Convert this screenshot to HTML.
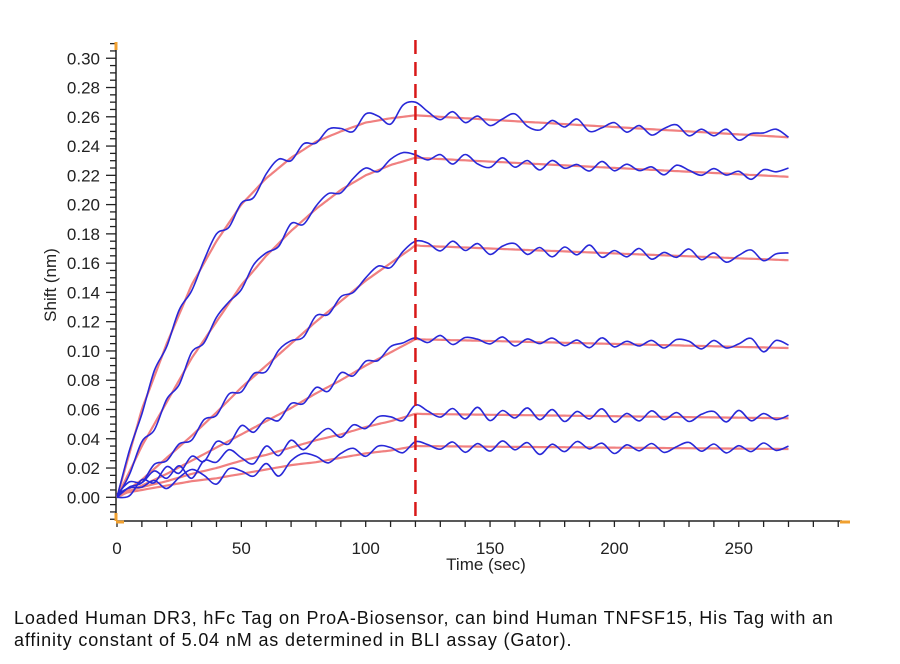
<!DOCTYPE html>
<html><head><meta charset="utf-8"><style>
html,body{margin:0;padding:0;background:#fff;width:900px;height:664px;overflow:hidden}
svg text{font-family:"Liberation Sans",Arial,sans-serif}
#cap{position:absolute;left:14px;top:607px;font-family:"Liberation Sans",sans-serif;font-size:18px;letter-spacing:0.85px;line-height:22px;color:#111;white-space:nowrap}
</style></head><body>
<svg id="chart" width="900" height="600" style="position:absolute;left:0;top:0"></svg>
<div id="cap">Loaded Human DR3, hFc Tag on ProA-Biosensor, can bind Human TNFSF15, His Tag with an<br>affinity constant of 5.04 nM as determined in BLI assay (Gator).</div>
<script>
const fitTimes=[0,10,20,30,40,50,60,70,80,90,100,110,120,270];
const fit1=[0,0.06,0.105,0.145,0.175,0.2,0.218,0.232,0.243,0.25,0.256,0.259,0.261,0.246];
const fit2=[0,0.035,0.065,0.095,0.12,0.145,0.165,0.182,0.197,0.21,0.22,0.227,0.232,0.219];
const fit3=[0,0.012,0.027,0.042,0.058,0.075,0.09,0.105,0.12,0.134,0.148,0.16,0.172,0.162];
const fit4=[0,0.008,0.016,0.025,0.034,0.043,0.052,0.061,0.071,0.08,0.09,0.099,0.108,0.102];
const fit5=[0.002,0.007,0.011,0.016,0.02,0.025,0.029,0.034,0.039,0.043,0.048,0.052,0.057,0.054];
const fit6=[0.002,0.005,0.008,0.011,0.013,0.016,0.019,0.022,0.024,0.027,0.03,0.032,0.035,0.033];
// residuals (x0.001) of measured trace vs fit, every 5 s from 0 to 270
const res1=[0,2,-3,4,-2,3,-4,2,5,-3,1,-4,3,6,-2,4,-1,5,2,-3,6,3,-4,8,9,3,-2,4,-3,2,-4,1,5,-3,-5,2,-2,4,-4,-1,3,-3,2,-4,1,4,-3,2,-2,3,-4,1,2,5,0];
const res2=[0,-2,3,-4,2,-3,4,-2,3,1,-3,4,2,-2,5,-3,2,4,-2,3,5,-1,4,6,2,-1,3,-3,4,-2,-4,3,-3,2,-4,3,-2,1,-3,4,-2,3,-1,2,-3,4,1,-2,3,-1,2,-3,4,3,6];
const res3=[0,1,-2,3,-2,2,-3,3,-2,4,-3,2,-4,3,2,-3,4,-2,3,-1,2,4,-3,2,3,2,-3,4,-2,3,-4,2,4,-3,2,-4,3,-2,5,-3,2,-2,4,-3,2,-1,5,-2,3,-3,2,6,-1,4,5];
const res4=[0,-3,4,-2,5,-4,3,-5,4,-2,6,-3,2,-4,3,-2,4,-3,5,-2,3,-1,4,2,1,-2,3,-3,2,1,-2,3,-3,2,-1,3,-2,2,-3,4,-2,2,-1,3,-2,4,3,-2,4,-1,2,6,-3,5,2];
const res5=[0,6,3,9,2,8,-3,7,4,10,2,-4,6,-3,5,-4,2,6,-2,4,-1,5,3,-2,6,2,-2,4,-3,5,-4,3,-2,5,-3,4,-4,3,-2,5,-4,2,-3,4,-2,3,-3,2,4,-3,5,-2,3,-1,2];
const res6=[0,3,2,5,-2,4,8,3,-4,5,2,-3,4,-6,3,7,4,-2,3,5,-2,4,2,-3,3,1,-2,3,-4,2,-3,4,-2,3,-5,2,-3,4,-1,3,-4,2,-2,3,-3,1,4,-2,3,-3,2,-2,4,-1,2];
const xTicks=[0,50,100,150,200,250];
const yTicks=[0,0.02,0.04,0.06,0.08,0.1,0.12,0.14,0.16,0.18,0.2,0.22,0.24,0.26,0.28,0.3];
const xScale=t=>117+t*2.487;
const yScale=v=>497.3-v*1463.5;
const svg=document.getElementById('chart');
const NS='http://www.w3.org/2000/svg';
function mk(tag,attrs,parent){const e=document.createElementNS(NS,tag);for(const k in attrs)e.setAttribute(k,attrs[k]);(parent||svg).appendChild(e);return e;}
let ax=mk('line',{x1:116,y1:42,x2:116,y2:521,stroke:'#222','stroke-width':1.5});


let bx=mk('line',{x1:116,y1:521,x2:842,y2:521,stroke:'#222','stroke-width':1.5});


for(let v=-0.015;v<=0.3101;v+=0.005){const y=yScale(v);const major=Math.abs(Math.round(v/0.02)*0.02-v)<1e-6;mk('line',{x1:major?106:110,y1:y,x2:116,y2:y,stroke:'#222','stroke-width':1.3});}
for(let t=0;t<=290;t+=10){const x=xScale(t);mk('line',{x1:x,y1:521,x2:x,y2:527,stroke:'#222','stroke-width':1.3});}
yTicks.forEach(v=>{const t=mk('text',{x:100,y:yScale(v)+6,'text-anchor':'end','font-size':17,fill:'#222'});t.textContent=v.toFixed(2);

});
xTicks.forEach(v=>{const t=mk('text',{x:xScale(v),y:554,'text-anchor':'middle','font-size':17,fill:'#222'});t.textContent=v;

});
let yt=mk('text',{x:0,y:0,transform:'translate(56,285) rotate(-90)','text-anchor':'middle','font-size':17,fill:'#222'});yt.textContent='Shift (nm)';


let xt=mk('text',{x:486,y:570,'text-anchor':'middle','font-size':17,fill:'#222'});xt.textContent='Time (sec)';


[[116,42,116,50],[116,513,116,521],[116,522,124,522],[840,522,850,522]].forEach(a=>{const m=mk('line',{x1:a[0],y1:a[1],x2:a[2],y2:a[3],stroke:'#f0a030','stroke-width':3});

});
function fitAt(f,t){for(let i=0;i<fitTimes.length-1;i++){if(t<=fitTimes[i+1]){const a=fitTimes[i],b=fitTimes[i+1];return f[i]+(f[i+1]-f[i])*(t-a)/(b-a);}}return f[f.length-1];}
function smoothPath(pts){let d='M'+pts[0][0]+','+pts[0][1];for(let i=0;i<pts.length-1;i++){const p0=pts[Math.max(0,i-1)],p1=pts[i],p2=pts[i+1],p3=pts[Math.min(pts.length-1,i+2)];
d+=' C'+(p1[0]+(p2[0]-p0[0])/6).toFixed(1)+','+(p1[1]+(p2[1]-p0[1])/6).toFixed(1)+' '+(p2[0]-(p3[0]-p1[0])/6).toFixed(1)+','+(p2[1]-(p3[1]-p1[1])/6).toFixed(1)+' '+p2[0].toFixed(1)+','+p2[1].toFixed(1);}return d;}
const fits=[fit1,fit2,fit3,fit4,fit5,fit6];const ress=[res1,res2,res3,res4,res5,res6];
fits.forEach((f,k)=>{
  const pts=[];for(let t=0;t<=270;t+=2)pts.push([xScale(t),yScale(fitAt(f,t))]);
  const p=mk('path',{d:smoothPath(pts),fill:'none',stroke:'#f08080','stroke-width':2.2});
  
  
});
fits.forEach((f,k)=>{
  const r=ress[k];const pts=[];r.forEach((v,i)=>{const t=i*5;pts.push([xScale(t),yScale(fitAt(f,t)+v*0.001)]);});
  const p=mk('path',{d:smoothPath(pts),fill:'none',stroke:'#2828d8','stroke-width':1.6});
  
  
});
let dl=mk('line',{x1:xScale(120),y1:40,x2:xScale(120),y2:521,stroke:'#d81818','stroke-width':2.5,'stroke-dasharray':'14,8'});


</script>
</body></html>
